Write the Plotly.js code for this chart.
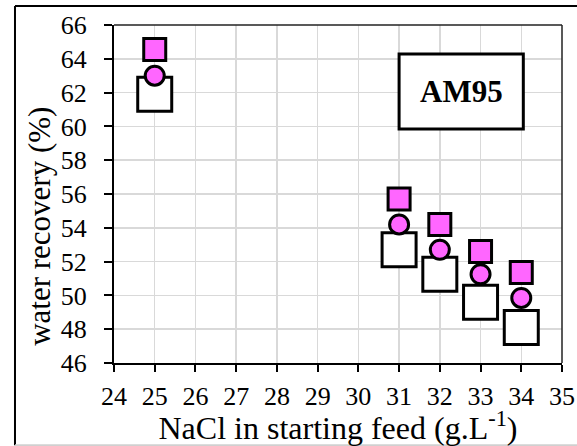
<!DOCTYPE html>
<html>
<head>
<meta charset="utf-8">
<script src="https://cdn.plot.ly/plotly-3.0.1.min.js"></script>
<style>html,body{margin:0;padding:0;background:#fff;}#chart{width:577px;height:446px;}</style>
</head>
<body>
<div id="chart"></div>
<script>
const nacl = [25, 31, 32, 33, 34];
const recoveryWhiteSquare = [61.9, 52.7, 51.25, 49.6, 48.1];
const recoveryMagentaSquare = [64.55, 55.7, 54.2, 52.6, 51.35];
const recoveryCircle = [63.0, 54.2, 52.7, 51.25, 49.85];
const xTicks = [24, 25, 26, 27, 28, 29, 30, 31, 32, 33, 34, 35];
const yTicks = [46, 48, 50, 52, 54, 56, 58, 60, 62, 64, 66];
const labelText = "AM95";
const xTitle = "NaCl in starting feed (g.L<sup>-1</sup>)";
const yTitle = "water recovery (%)";

const FAM = "Liberation Serif";

const traces = [
  {x: nacl, y: recoveryWhiteSquare, mode: "markers", type: "scatter",
   marker: {symbol: "square", size: 34, color: "#ffffff", line: {color: "#000", width: 3}}},
  {x: nacl, y: recoveryMagentaSquare, mode: "markers", type: "scatter",
   marker: {symbol: "square", size: 22, color: "#ff66ff", line: {color: "#000", width: 3}}},
  {x: nacl, y: recoveryCircle, mode: "markers", type: "scatter",
   marker: {symbol: "circle", size: 19, color: "#ff66ff", line: {color: "#000", width: 3}}}
];

const layout = {
  width: 577, height: 446,
  margin: {l: 114, r: 15, t: 25, b: 83},
  paper_bgcolor: "#fff", plot_bgcolor: "#fff",
  showlegend: false,
  font: {family: FAM, size: 26, color: "#000"},
  xaxis: {
    range: [24, 35], tickvals: xTicks, ticktext: xTicks.map(String),
    showgrid: true, gridcolor: "#d9d9d9", gridwidth: 1.5,
    showline: true, linecolor: "#000", linewidth: 2,
    ticks: "outside", ticklen: 7, tickwidth: 2, tickcolor: "#000",
    ticklabelstandoff: 2,
    tickfont: {family: FAM, size: 26, color: "#000"},
    zeroline: false,
    title: {text: xTitle, font: {family: FAM, size: 32, color: "#000"}, standoff: 0}
  },
  yaxis: {
    range: [46, 66], tickvals: yTicks, ticktext: yTicks.map(String),
    showgrid: true, gridcolor: "#d9d9d9", gridwidth: 1.5,
    showline: true, linecolor: "#000", linewidth: 2,
    ticks: "outside", ticklen: 8, tickwidth: 2, tickcolor: "#000",
    ticklabelstandoff: 12,
    tickfont: {family: FAM, size: 26, color: "#000"},
    zeroline: false
  },
  shapes: [
    {type: "line", xref: "paper", yref: "paper", x0: 0, x1: 1, y0: 1, y1: 1, line: {color: "#222", width: 1.5}},
    {type: "line", xref: "paper", yref: "paper", x0: 1, x1: 1, y0: 0, y1: 1, line: {color: "#222", width: 1.5}},
    {type: "line", xref: "paper", yref: "paper", x0: -0.221, x1: -0.221, y0: -0.243, y1: 1.056, line: {color: "#000", width: 2}},
    {type: "line", xref: "paper", yref: "paper", x0: -0.221, x1: 1.1, y0: 1.056, y1: 1.056, line: {color: "#000", width: 2}},
    {type: "line", xref: "paper", yref: "paper", x0: -0.221, x1: 1.1, y0: -0.243, y1: -0.243, line: {color: "#d0d0d0", width: 2}},
    {type: "rect", xref: "x", yref: "y", x0: 31.0, x1: 34.05, y0: 59.85, y1: 64.28,
     fillcolor: "#fff", line: {color: "#000", width: 3}, layer: "above"}
  ],
  annotations: [
    {x: 32.52, y: 62.05, xref: "x", yref: "y", text: "<b>" + labelText + "</b>", showarrow: false,
     font: {family: FAM, size: 31, color: "#000"}},
    {x: -0.168, y: 0.405, xref: "paper", yref: "paper", text: yTitle, textangle: -90, showarrow: false,
     xanchor: "center", yanchor: "middle", font: {family: FAM, size: 31, color: "#000"}}
  ]
};

Plotly.newPlot("chart", traces, layout, {displayModeBar: false, staticPlot: true});
</script>
</body>
</html>
